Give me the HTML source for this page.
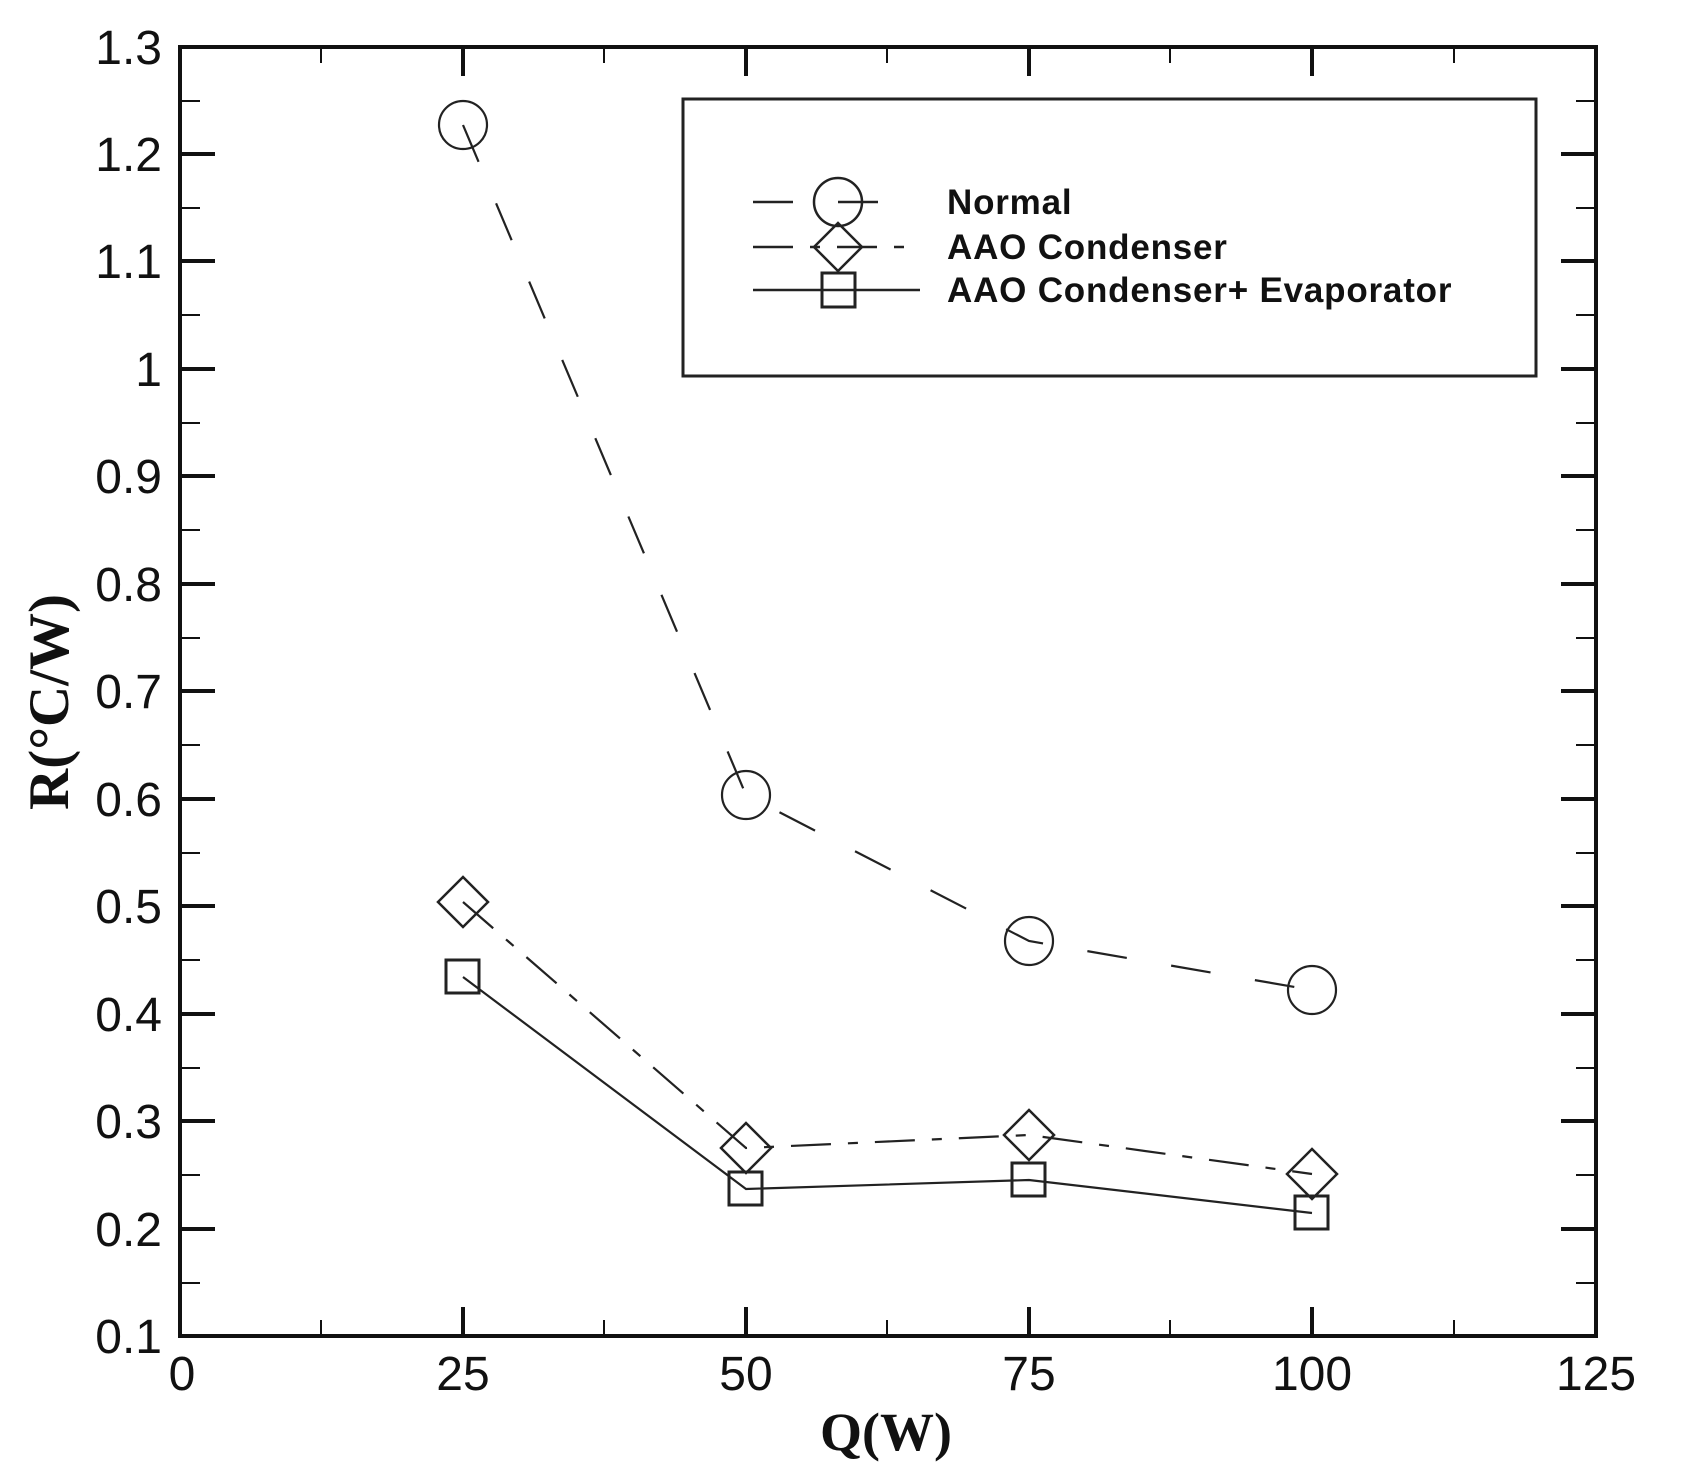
<!DOCTYPE html>
<html><head><style>html,body{margin:0;padding:0;background:#fff}svg{display:block}</style></head>
<body>
<svg width="1705" height="1478" viewBox="0 0 1705 1478" xmlns="http://www.w3.org/2000/svg">
<rect width="1705" height="1478" fill="#fff"/>
<g stroke="#111" stroke-width="2">
<g id="yt">
<line x1="180" y1="154" x2="215" y2="154" stroke-width="4"/><line x1="180" y1="261" x2="215" y2="261" stroke-width="4"/>
<line x1="180" y1="369" x2="215" y2="369" stroke-width="4"/><line x1="180" y1="476" x2="215" y2="476" stroke-width="4"/>
<line x1="180" y1="584" x2="215" y2="584" stroke-width="4"/><line x1="180" y1="691" x2="215" y2="691" stroke-width="4"/>
<line x1="180" y1="799" x2="215" y2="799" stroke-width="4"/><line x1="180" y1="906" x2="215" y2="906" stroke-width="4"/>
<line x1="180" y1="1014" x2="215" y2="1014" stroke-width="4"/><line x1="180" y1="1121" x2="215" y2="1121" stroke-width="4"/>
<line x1="180" y1="1229" x2="215" y2="1229" stroke-width="4"/>
<line x1="180" y1="101" x2="200" y2="101"/><line x1="180" y1="208" x2="200" y2="208"/><line x1="180" y1="315" x2="200" y2="315"/>
<line x1="180" y1="423" x2="200" y2="423"/><line x1="180" y1="530" x2="200" y2="530"/><line x1="180" y1="638" x2="200" y2="638"/>
<line x1="180" y1="745" x2="200" y2="745"/><line x1="180" y1="853" x2="200" y2="853"/><line x1="180" y1="960" x2="200" y2="960"/>
<line x1="180" y1="1068" x2="200" y2="1068"/><line x1="180" y1="1175" x2="200" y2="1175"/><line x1="180" y1="1283" x2="200" y2="1283"/>
</g>
<use href="#yt" transform="translate(1776,0) scale(-1,1)"/>
<g id="xt">
<line x1="463" y1="1336" x2="463" y2="1307" stroke-width="4"/><line x1="746" y1="1336" x2="746" y2="1307" stroke-width="4"/>
<line x1="1029" y1="1336" x2="1029" y2="1307" stroke-width="4"/><line x1="1312" y1="1336" x2="1312" y2="1307" stroke-width="4"/>
<line x1="321" y1="1336" x2="321" y2="1320"/><line x1="604" y1="1336" x2="604" y2="1320"/>
<line x1="887" y1="1336" x2="887" y2="1320"/><line x1="1170" y1="1336" x2="1170" y2="1320"/><line x1="1454" y1="1336" x2="1454" y2="1320"/>
</g>
<use href="#xt" transform="translate(0,1383) scale(1,-1)"/>
</g>
<rect x="180" y="47" width="1416" height="1289" fill="none" stroke="#111" stroke-width="4"/>
<g font-family="Liberation Sans, sans-serif" font-size="48" fill="#111" text-anchor="end">
<text x="162" y="64">1.3</text><text x="162" y="171">1.2</text><text x="162" y="278">1.1</text><text x="162" y="386">1</text>
<text x="162" y="493">0.9</text><text x="162" y="601">0.8</text><text x="162" y="708">0.7</text><text x="162" y="816">0.6</text>
<text x="162" y="923">0.5</text><text x="162" y="1031">0.4</text><text x="162" y="1138">0.3</text><text x="162" y="1246">0.2</text>
<text x="162" y="1353">0.1</text>
</g>
<g font-family="Liberation Sans, sans-serif" font-size="48" fill="#111" text-anchor="middle">
<text x="182" y="1390">0</text><text x="463" y="1390">25</text><text x="746" y="1390">50</text>
<text x="1029" y="1390">75</text><text x="1312" y="1390">100</text><text x="1596" y="1390">125</text>
</g>
<text x="886" y="1450" font-family="Liberation Serif, serif" font-weight="bold" font-size="54" text-anchor="middle" fill="#111">Q(W)</text>
<text transform="translate(68,702) rotate(-90)" font-family="Liberation Serif, serif" font-weight="bold" font-size="57" text-anchor="middle" fill="#111">R(°C/W)</text>
<g fill="none" stroke="#222" stroke-width="2.2">
<polyline points="463,125 746,795 1029,941 1312,990" stroke-dasharray="40,45"/>
<polyline points="463,902 746,1148 1029,1135 1312,1174" stroke-dasharray="40,17,10,17"/>
<polyline points="463,977 746,1189 1029,1180 1312,1213"/>
<circle cx="463" cy="125" r="24"/><circle cx="746" cy="795" r="24"/><circle cx="1029" cy="941" r="24"/><circle cx="1312" cy="990" r="24"/>
<path d="M463,877 l25,25 l-25,25 l-25,-25z M746,1123 l25,25 l-25,25 l-25,-25z M1029,1110 l25,25 l-25,25 l-25,-25z M1312,1149 l25,25 l-25,25 l-25,-25z" stroke-width="2.5"/>
<rect x="446" y="960" width="33" height="33" stroke-width="3"/><rect x="729" y="1172" width="33" height="33" stroke-width="3"/>
<rect x="1012" y="1163" width="33" height="33" stroke-width="3"/><rect x="1295" y="1196" width="33" height="33" stroke-width="3"/>
</g>
<rect x="683" y="99" width="853" height="277" fill="#fff" stroke="#222" stroke-width="3"/>
<g fill="none" stroke="#222" stroke-width="2.5">
<line x1="753" y1="202" x2="920" y2="202" stroke-dasharray="40,45"/>
<line x1="753" y1="247" x2="920" y2="247" stroke-dasharray="40,17,10,17"/>
<line x1="753" y1="290" x2="920" y2="290"/>
<circle cx="838" cy="202" r="24"/>
<path d="M838,223 l24,24 l-24,24 l-24,-24z"/>
<rect x="822" y="273" width="33" height="34" stroke-width="3"/>
</g>
<g font-family="Liberation Sans, sans-serif" font-weight="bold" font-size="35" fill="#111" letter-spacing="0.8">
<text x="947" y="214">Normal</text><text x="947" y="259">AAO Condenser</text><text x="947" y="302">AAO Condenser+ Evaporator</text>
</g>
</svg>
</body></html>
